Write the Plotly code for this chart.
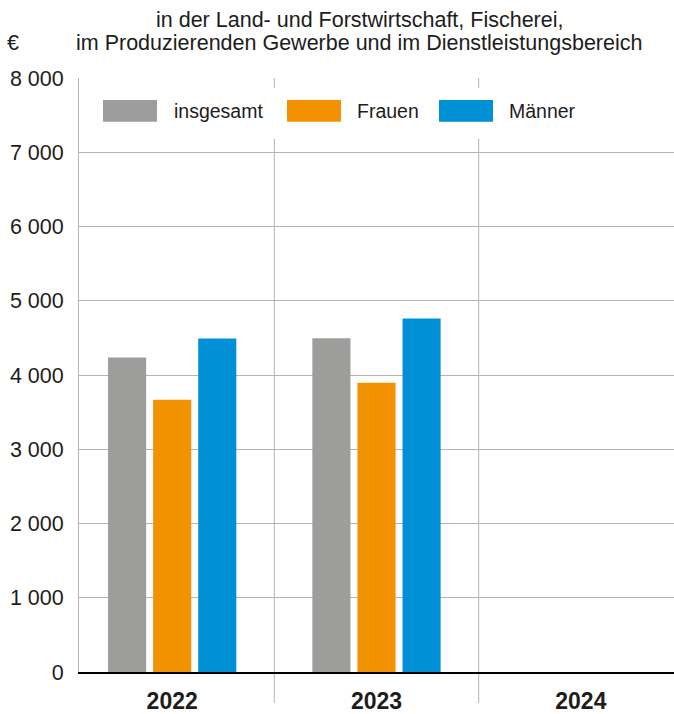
import plotly.graph_objects as go

# ---- data ----
years = ["2022", "2023", "2024"]
insgesamt = [4235, 4495, None]
frauen = [3665, 3895, None]
maenner = [4490, 4760, None]
series_names = ["insgesamt", "Frauen", "Männer"]
series_colors = ["#9d9d9c", "#f39200", "#0090d5"]
y_tick_values = [0, 1000, 2000, 3000, 4000, 5000, 6000, 7000, 8000]
y_tick_labels = ["0", "1 000", "2 000", "3 000", "4 000", "5 000", "6 000", "7 000", "8 000"]
title_lines = ["in der Land- und Forstwirtschaft, Fischerei,",
               "im Produzierenden Gewerbe und im Dienstleistungsbereich"]
unit_label = "€"

W, H = 674, 714
ML, MR, MT, MB = 79, 0, 78, 39
PW, PH = W - ML - MR, H - MT - MB
FONT = "Liberation Sans, Arial, sans-serif"
TXT = "#1d1d1b"
GRID = "#b4b4b4"


def px_x(px):
    return (px - ML) / PW


def px_y(py):
    return (H - MB - py) / PH


fig = go.Figure()
for name, vals, col in zip(series_names, [insgesamt, frauen, maenner], series_colors):
    fig.add_trace(go.Bar(x=years, y=vals, name=name,
                         marker=dict(color=col, line=dict(width=0))))

fig.update_layout(
    width=W, height=H,
    margin=dict(l=ML, r=MR, t=MT, b=MB, pad=0),
    paper_bgcolor="white", plot_bgcolor="white",
    barmode="group", bargap=0.338, bargroupgap=0.155,
    showlegend=False,
    font=dict(family=FONT, color=TXT),
)
fig.update_xaxes(
    type="category", range=[-0.456, 2.456], showgrid=False,
    showline=True, linecolor="#000000", linewidth=2,
    ticks="outside", ticklen=7, tickcolor="rgba(0,0,0,0)",
    tickfont=dict(size=23, family=FONT, color=TXT, weight="bold"),
)
fig.update_yaxes(
    range=[0, 8000], tickvals=y_tick_values, ticktext=y_tick_labels,
    showgrid=True, gridcolor=GRID, gridwidth=1,
    showline=True, linecolor=GRID, linewidth=1, zeroline=False,
    ticks="outside", ticklen=10, tickcolor="rgba(0,0,0,0)",
    tickfont=dict(size=21.5, family=FONT, color=TXT),
)

shapes = []
# category separators extending below the axis
for xv in [0.5, 1.5]:
    shapes.append(dict(type="line", xref="x", yref="paper", x0=xv, x1=xv,
                       y0=px_y(706), y1=1, line=dict(color=GRID, width=1), layer="between"))
# white legend backdrop
shapes.append(dict(type="rect", xref="paper", yref="paper",
                   x0=px_x(92), x1=px_x(600), y0=px_y(139), y1=px_y(88),
                   fillcolor="white", line=dict(width=0), layer="above"))
annotations = []
swatch_x = [103, 287, 439]
text_x = [172, 355, 507]
for name, col, sx, tx in zip(series_names, series_colors, swatch_x, text_x):
    shapes.append(dict(type="rect", xref="paper", yref="paper",
                       x0=px_x(sx), x1=px_x(sx + 54), y0=px_y(122), y1=px_y(100),
                       fillcolor=col, line=dict(width=0), layer="above"))
    annotations.append(dict(text=name, xref="paper", yref="paper", x=px_x(tx), y=px_y(111),
                            xanchor="left", yanchor="middle", showarrow=False,
                            font=dict(size=19.5, family=FONT, color=TXT)))

for line, py in zip(title_lines, [20, 43]):
    annotations.append(dict(text=line, xref="paper", yref="paper", x=px_x(359), y=px_y(py),
                            xanchor="center", yanchor="middle", showarrow=False,
                            font=dict(size=21.5, family=FONT, color=TXT)))
annotations.append(dict(text=unit_label, xref="paper", yref="paper", x=px_x(13), y=px_y(43),
                        xanchor="center", yanchor="middle", showarrow=False,
                        font=dict(size=21.5, family=FONT, color=TXT)))

fig.update_layout(shapes=shapes, annotations=annotations)
fig.write_html(
    "out.html",
    config={"displayModeBar": False},
    post_script="document.body.style.margin='0';document.body.style.overflow='hidden';",
)
